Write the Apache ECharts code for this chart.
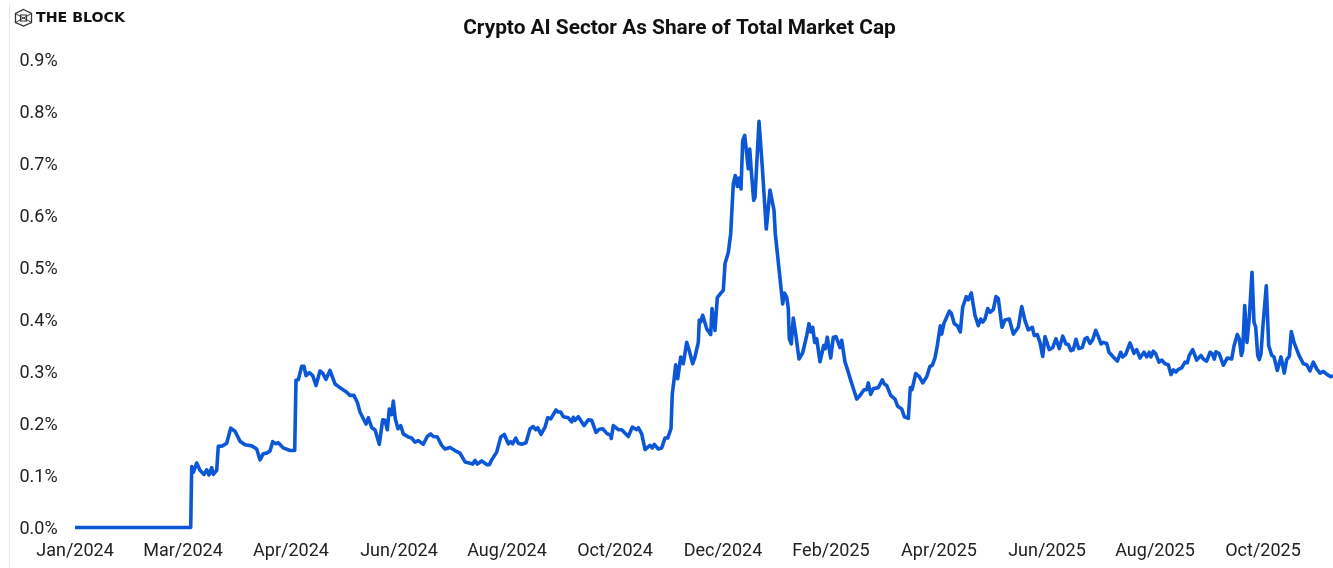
<!DOCTYPE html>
<html><head><meta charset="utf-8">
<style>html,body{margin:0;padding:0;background:#fff}#c{width:1333px;height:568px}</style>
<script src="https://cdn.jsdelivr.net/npm/echarts@6/dist/echarts.min.js"></script>
</head><body><div id="c"></div>
<script>
const titleText = 'Crypto AI Sector As Share of Total Market Cap';
const brandText = 'THE BLOCK';
const tickLabels = ['Jan/2024','Mar/2024','Apr/2024','Jun/2024','Aug/2024','Oct/2024','Dec/2024','Feb/2025','Apr/2025','Jun/2025','Aug/2025','Oct/2025'];
const samples = [
0,115.7,116.7,118.3,121.7,125,129,131.7,134,136.7,138.3,141.7,143.3,147.7,151.7,155.7,160,165,170,176.7,181.7,185,188.3,191.7,195,197.7,201,203.3,208.3,215,219.7,221,223.3,226.7,229,231,234.3,237.7,241,245,247.7,251,255,260,265,271.7,275,279,282.3,285,291,293.3,296.7,300,304.3,307.7,310,312.3,314.3,316.7,318.3,320.3,323,325.7,328.3,333.3,336.7,340,343.3,348.3,352.3,355.7,358.3,362.3,366.7,370,375,
380,385,390,394.3,397.7,400,402.3,406.7,411.7,414.3,416.7,418.3,421.7,425.7,429.3,433.3,435.7,437.7,440.7,443.3,446.7,451,455,458.3,460.7,462.7,466,470,472.7,475.7,481,483.3,485.7,488.3,493.3,496.7,498.3,500,503.3,509,513.3,516.7,521,524.3,527.7,531.7,535.7,536.3,538.3,540,543.3,546.7,553.3,557.3,561.7,563.3,566.7,570,575,577.3,579.3,583.3,586.7,590,592.7,596,597.3,599,600.7,602.7,605.7,608.3,611.7,614.3,616,617.7,620,623.3,624.3,625.7,627.7,629.7,631.7,633.7,635.7,637,640,642.3,644.3,646,648.3,650,653.3,655.7,658.3,660.3,662.3,663.7,666,667.7,669.7,671.7,673.3,674.7,676,678.7,680,684,687.3,691.3,695,696.3,699,700.3,702,707.7,709.3,711.7,713.3,714.3,716.3,718.3,720.7,724,725.3,727.7,729.3,731.7,734,735.7,737.7,739.7,741.7,745,747,748.7,750.3,752.3,755.7,758.3,761,762.7,765,766.7,770,772.3,775.7,
781.7,785,789,791.7,793.3,795.7,798.3,803.3,807.3,809.3,811.7,815.7,820,822.7,826.7,829.3,833.3,835.3,837,840.7,844.3,847.7,851.7,855,857.3,860,862.3,865.3,866.7,869,871,874.3,876.3,879.3,882.3,885.3,887.7,891.3,893.3,896.3,900,903.3,905.7,907.7,910,912.7,915,918.3,921,923.3,927,930,934.3,938.3,943.3,946.7,950,953.3,957.3,959.3,962.3,965,967.7,970,974.3,977.7,981,984.3,987.7,991,993.3,996,998.3,1001,1003.7,1007.3,1010,1012.3,1015,
1017.7,1020.7,1023,1026,1028.3,1031.7,1034,1038.3,1042.3,1045.7,1047.7,1050.7,1055,1056.7,1059,1061.7,1065,1069,1071.7,1074.3,1076,1078.3,1080.7,1084,1086.7,1090,1093.3,1096,1098.3,1101,1103.3,1106.7,1110,1112.3,1114.3,1117.7,1121.7,1126,1128.3,1131.7,1135,1137.3,1139.3,1141,1144.3,1148.3,1152.3,1156.7,1159,1160.7,1162.3,1164.3,1166.3,1167.7,1169.7,1172,1174.3,1177,1179,1180.7,1182.7,1184.3,1186,1187.7,1189.7,1191.3,1193.7,1196.7,1199,1202.3,1204.3,1206,1209.3,1211.7,1214.3,1216.3,1219,1220.7,1224,1228.3,1231.7,1235,1238.3,1241.7,1245,1248.3,1252.3,1255.7,1258];
const aiShare = [
0,0,.117,.106,.124,.110,.102,.111,.101,.115,.102,.110,.156,.157,.162,.191,.185,.166,.159,.157,.151,.130,.142,.143,.147,.165,.161,.163,.153,.148,.148,.283,.284,.310,.310,.292,.298,.292,.273,.301,.297,.285,.302,.276,.269,.260,.254,.254,.241,.222,.199,.211,.192,.188,.160,.207,.206,.188,.228,.217,.243,.209,.190,.196,.180,.174,.172,.164,.167,.160,.175,.180,.175,.174,.158,.151,.154,
.148,.143,.126,.124,.122,.129,.122,.128,.121,.121,.130,.129,.145,.174,.179,.161,.165,.161,.172,.162,.160,.163,.190,.194,.188,.192,.179,.193,.211,.209,.226,.222,.222,.213,.211,.203,.212,.206,.213,.196,.207,.206,.183,.189,.190,.181,.177,.171,.196,.197,.188,.188,.175,.193,.188,.192,.180,.150,.158,.153,.160,.151,.153,.172,.172,.190,.257,.283,.313,.286,.328,.315,.356,.340,.339,.315,.328,.356,.399,.395,.408,.406,.382,.380,.371,.421,.379,.442,.443,.451,.456,.507,.529,.565,.661,.677,.656,.672,.651,.744,.754,.753,.690,.728,.693,.629,.635,.781,.693,.574,.649,.648,.610,.565,.563,.430,.451,.443,.421,.363,.353,.403,.372,.324,.322,.336,.337,.369,.392,.376,.385,.356,.363,.319,.318,.350,.344,.366,.326,.366,.367,.369,.346,.360,.318,.305,.283,
.247,.254,.265,.265,.278,.256,.267,.269,.284,.276,.273,.254,.247,.233,.228,.213,.210,.269,.265,.296,.290,.278,.290,.310,.312,.326,.350,.388,.372,.393,.395,.416,.412,.392,.388,.376,.424,.444,.438,.451,.408,.388,.401,.395,.401,.421,.414,.419,.444,.440,.385,.399,.401,.372,.385,.425,.398,.380,.385,.369,.371,.356,.329,.367,.342,.346,.363,.344,.368,.353,.352,.340,.342,.362,.344,.346,.363,.365,.354,
.361,.379,.369,.353,.356,.354,.337,.328,.320,.337,.328,.333,.355,.353,.335,.342,.326,.337,.328,.337,.328,.339,.334,.318,.322,.315,.313,.294,.303,.299,.304,.307,.318,.317,.331,.342,.322,.331,.324,.320,.337,.334,.324,.338,.334,.312,.326,.324,.349,.350,.371,.363,.331,.340,.427,.356,.404,.491,.395,.385,.331,.323,.334,.382,.383,.465,.350,.331,.328,.302,.302,.328,.297,.323,.329,.377,.356,.358,.331,.315,.313,.301,.318,.305,.297,.300,.294,.290,.292];

const chart = echarts.init(document.getElementById('c'), null, {renderer:'canvas'});
const font = 'Roboto';
chart.setOption({
  animation:false,
  backgroundColor:'#fff',
  title:{text:titleText,left:674.5,top:13,textAlign:'center',
    textStyle:{fontFamily:font,fontSize:20.85,fontWeight:700,color:'#111'}},
  grid:{left:75,right:0,top:59.5,bottom:40.5,containLabel:false},
  xAxis:{type:'value',min:0,max:1258,interval:108,
    axisLine:{show:false},axisTick:{show:false},splitLine:{show:false},
    axisLabel:{show:true,margin:14.5,fontFamily:font,fontSize:18,color:'#222',showMaxLabel:false,hideOverlap:false,alignMinLabel:'center',alignMaxLabel:'center',
      formatter:v=>tickLabels[Math.round(v/108)]||''}},
  yAxis:{type:'value',min:0,max:0.9,interval:0.1,
    axisLine:{show:false},axisTick:{show:false},splitLine:{show:false},
    axisLabel:{margin:55.5,align:'left',fontFamily:font,fontSize:18,color:'#222',
      rich:{t:{fontFamily:font,fontSize:18,color:'#222',padding:[3,0,0,0]}},
      formatter:v=>'{t|'+v.toFixed(1)+'%}'}},
  series:[{type:'line',data:samples.map((s,i)=>[s,aiShare[i]]),showSymbol:false,symbol:'none',clip:false,
    lineStyle:{color:'#0b57d6',width:3.6,join:'round'},smooth:false}],
  graphic:[
    {type:'line',shape:{x1:9.5,y1:4,x2:9.5,y2:568},style:{stroke:'#e6e6e6',lineWidth:1}},
    {type:'polygon',shape:{points:[[23.5,9.5],[31.5,13.5],[31.5,22.5],[23.5,26],[15.5,22.5],[15.5,13.5]]},style:{fill:'none',stroke:'#333',lineWidth:1.3}},
    {type:'polygon',shape:{points:[[20.5,15],[26.5,15],[26.5,21],[20.5,21]]},style:{fill:'none',stroke:'#333',lineWidth:1.2}},
    {type:'line',shape:{x1:15.5,y1:13.5,x2:31.5,y2:22.5},style:{stroke:'#333',lineWidth:1}},
    {type:'line',shape:{x1:31.5,y1:13.5,x2:15.5,y2:22.5},style:{stroke:'#333',lineWidth:1}},
    {type:'text',x:36,y:11,style:{text:brandText,fontFamily:'DejaVu Sans',fontSize:14.2,fontWeight:700,fill:'#111'}}
  ]
});
</script></body></html>
